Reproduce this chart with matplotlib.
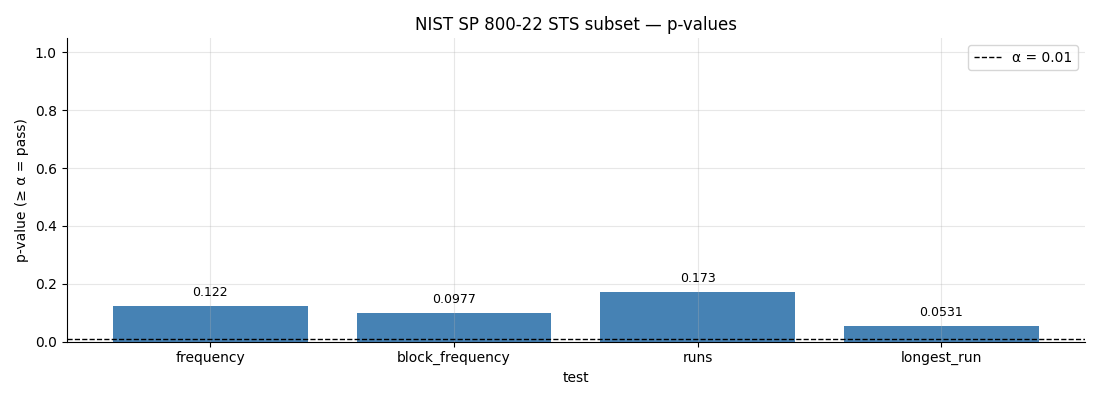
import numpy as np
from matplotlib import pyplot as plt

tests = ['frequency', 'block_frequency', 'runs', 'longest_run']
pvalues = [0.122, 0.0977, 0.173, 0.0531]
labels = ['0.122', '0.0977', '0.173', '0.0531']
alpha = 0.01

fig, ax = plt.subplots(figsize=(11, 4), dpi=100)
fig.subplots_adjust(left=0.0605, right=0.9865, top=0.905, bottom=0.146)

x = np.arange(len(tests))
bars = ax.bar(x, pvalues, width=0.8, color='steelblue', zorder=1)
for xi, p, lab in zip(x, pvalues, labels):
    ax.annotate(lab, (xi, p), xytext=(0, 5), textcoords='offset points',
                ha='center', va='bottom', fontsize=9)
ax.axhline(alpha, color='black', ls='--', lw=1, label='α = 0.01', zorder=3)

ax.set_xticks(x)
ax.set_xticklabels(tests)
ax.set_ylim(0, 1.05)
ax.set_xlabel('test')
ax.set_ylabel('p-value (≥ α = pass)')
ax.set_title('NIST SP 800-22 STS subset — p-values')
ax.grid(alpha=0.3, zorder=2)
ax.set_axisbelow(False)
for s in ['top', 'right']:
    ax.spines[s].set_visible(False)
ax.legend(loc='upper right')

plt.savefig('out.png')
